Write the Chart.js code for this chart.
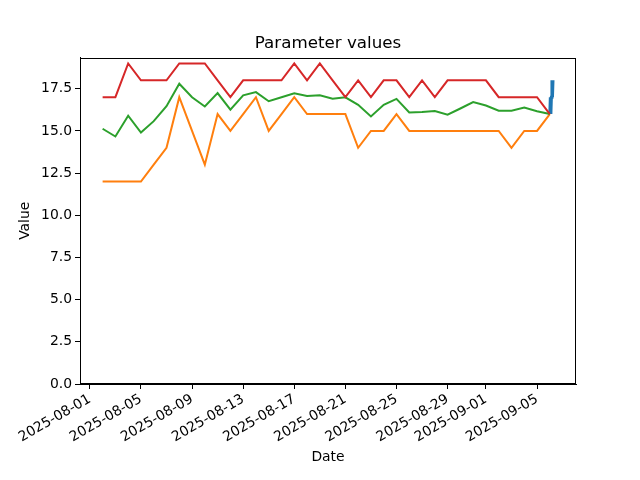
<!DOCTYPE html>
<html>
<head>
<meta charset="utf-8">
<script src="https://cdn.jsdelivr.net/npm/chart.js@4"></script>
<style>body { margin: 0; background: #fff; }</style>
</head>
<body>
<canvas id="myChart" width="640" height="480"></canvas>
<script>
// daily summaries
var dates = [
    '2025-08-02', '2025-08-03', '2025-08-04', '2025-08-05', '2025-08-06', '2025-08-07',
    '2025-08-08', '2025-08-09', '2025-08-10', '2025-08-11', '2025-08-12', '2025-08-13',
    '2025-08-14', '2025-08-15', '2025-08-16', '2025-08-17', '2025-08-18', '2025-08-19',
    '2025-08-20', '2025-08-21', '2025-08-22', '2025-08-23', '2025-08-24', '2025-08-25',
    '2025-08-26', '2025-08-27', '2025-08-28', '2025-08-29', '2025-08-30', '2025-08-31',
    '2025-09-01', '2025-09-02', '2025-09-03', '2025-09-04', '2025-09-05', '2025-09-06'
];
var maxValues = [17, 17, 19, 18, 18, 18, 19, 19, 19, 18, 17, 18, 18, 18, 18, 19, 18, 19,
                 18, 17, 18, 17, 18, 18, 17, 18, 17, 18, 18, 18, 18, 17, 17, 17, 17, 16];
var minValues = [12, 12, 12, 12, 13, 14, 17, 15, 13, 16, 15, 16, 17, 15, 16, 17, 16, 16,
                 16, 16, 14, 15, 15, 16, 15, 15, 15, 15, 15, 15, 15, 15, 14, 15, 15, 16];
var meanValues = [15.13, 14.67, 15.9, 14.9, 15.58, 16.47, 17.8, 17.0, 16.45, 17.24, 16.26, 17.11,
                  17.3, 16.76, 17.0, 17.23, 17.07, 17.11, 16.91, 16.99, 16.55, 15.86, 16.55, 16.9,
                  16.09, 16.12, 16.18, 15.96, 16.33, 16.71, 16.51, 16.2, 16.2, 16.38, 16.17, 16.0];

// raw readings of the last day
var readingTimes = [
    '2025-09-06T00:00:00Z', '2025-09-06T01:00:00Z', '2025-09-06T02:00:00Z',
    '2025-09-06T03:00:00Z', '2025-09-06T04:00:00Z', '2025-09-06T05:00:00Z',
    '2025-09-06T06:00:00Z'
];
var readingValues = [16, 17, 16, 17, 18, 17, 18];

var xTickLabels = ['2025-08-01', '2025-08-05', '2025-08-09', '2025-08-13', '2025-08-17',
                   '2025-08-21', '2025-08-25', '2025-08-29', '2025-09-01', '2025-09-05'];
var yTicks = [0, 2.5, 5, 7.5, 10, 12.5, 15, 17.5];

var origin = Date.parse('2025-08-01');
function toDay(s) {
    return (Date.parse(s) - origin) / 86400000;
}
function points(xs, ys) {
    return xs.map(function (x, i) { return { x: toDay(x), y: ys[i] }; });
}

// matplotlib style box around the axes
var frame = {
    id: 'frame',
    afterDraw: function (chart) {
        var a = chart.chartArea;
        var c = chart.ctx;
        c.save();
        c.strokeStyle = '#000';
        c.lineWidth = 1;
        c.strokeRect(Math.round(a.left) + 0.5, Math.round(a.top) + 0.5,
                     Math.round(a.right - a.left) - 1, Math.round(a.bottom - a.top) - 1);
        c.restore();
    }
};

Chart.defaults.font.family = "'DejaVu Sans', sans-serif";
Chart.defaults.color = '#000';

var ctx = document.getElementById('myChart').getContext('2d');
var myChart = new Chart(ctx, {
    type: 'line',
    data: {
        datasets: [{
            label: 'readings',
            data: points(readingTimes, readingValues),
            borderColor: '#1f77b4',
            borderWidth: 3,
            order: 3
        }, {
            label: 'min',
            data: points(dates, minValues),
            borderColor: '#ff7f0e',
            order: 2
        }, {
            label: 'mean',
            data: points(dates, meanValues),
            borderColor: '#2ca02c',
            order: 1
        }, {
            label: 'max',
            data: points(dates, maxValues),
            borderColor: '#d62728',
            order: 0
        }]
    },
    options: {
        responsive: false,
        animation: false,
        parsing: false,
        elements: {
            line: { borderWidth: 2, tension: 0, fill: false },
            point: { radius: 0 }
        },
        layout: { padding: { left: 16, right: 0, top: 0, bottom: 0 } },
        plugins: {
            legend: { display: false },
            tooltip: { enabled: false },
            title: {
                display: true,
                text: 'Parameter values',
                font: { size: 16.7, weight: 'normal' },
                padding: { top: 34, bottom: 3.5 }
            }
        },
        scales: {
            x: {
                type: 'linear',
                min: -0.77,
                max: 38.05,
                afterFit: function (scale) { scale.height = 96; },
                afterBuildTicks: function (scale) {
                    scale.ticks = xTickLabels.map(function (t) { return { value: toDay(t) }; });
                },
                ticks: {
                    autoSkip: false,
                    minRotation: 30,
                    maxRotation: 30,
                    padding: 2,
                    font: { size: 13.9 },
                    callback: function (v) {
                        for (var i = 0; i < xTickLabels.length; i++) {
                            if (Math.abs(toDay(xTickLabels[i]) - v) < 1e-6) return xTickLabels[i];
                        }
                        return '';
                    }
                },
                grid: { display: true, drawOnChartArea: false, tickLength: 5, color: '#000' },
                border: { display: true, color: '#000' },
                title: {
                    display: true,
                    text: 'Date',
                    font: { size: 13.9 },
                    padding: { top: 0, bottom: 14.5 }
                }
            },
            y: {
                min: 0,
                max: 19.35,
                afterFit: function (scale) { scale.width = 64; },
                afterBuildTicks: function (scale) {
                    scale.ticks = yTicks.map(function (v) { return { value: v }; });
                },
                ticks: {
                    padding: 3,
                    font: { size: 13.9 },
                    callback: function (v) { return v.toFixed(1); }
                },
                grid: { display: true, drawOnChartArea: false, tickLength: 5, color: '#000' },
                border: { display: true, color: '#000' },
                title: {
                    display: true,
                    text: 'Value',
                    font: { size: 13.9 },
                    padding: { top: 1.5, bottom: 0 }
                }
            },
            // empty right-hand box that keeps the figure margin
            margin: {
                type: 'linear',
                position: 'right',
                min: 0,
                max: 1,
                afterFit: function (scale) { scale.width = 64; },
                afterBuildTicks: function (scale) { scale.ticks = []; },
                ticks: { display: false },
                grid: { display: false },
                border: { display: false }
            }
        }
    },
    plugins: [frame]
});
</script>
</body>
</html>
